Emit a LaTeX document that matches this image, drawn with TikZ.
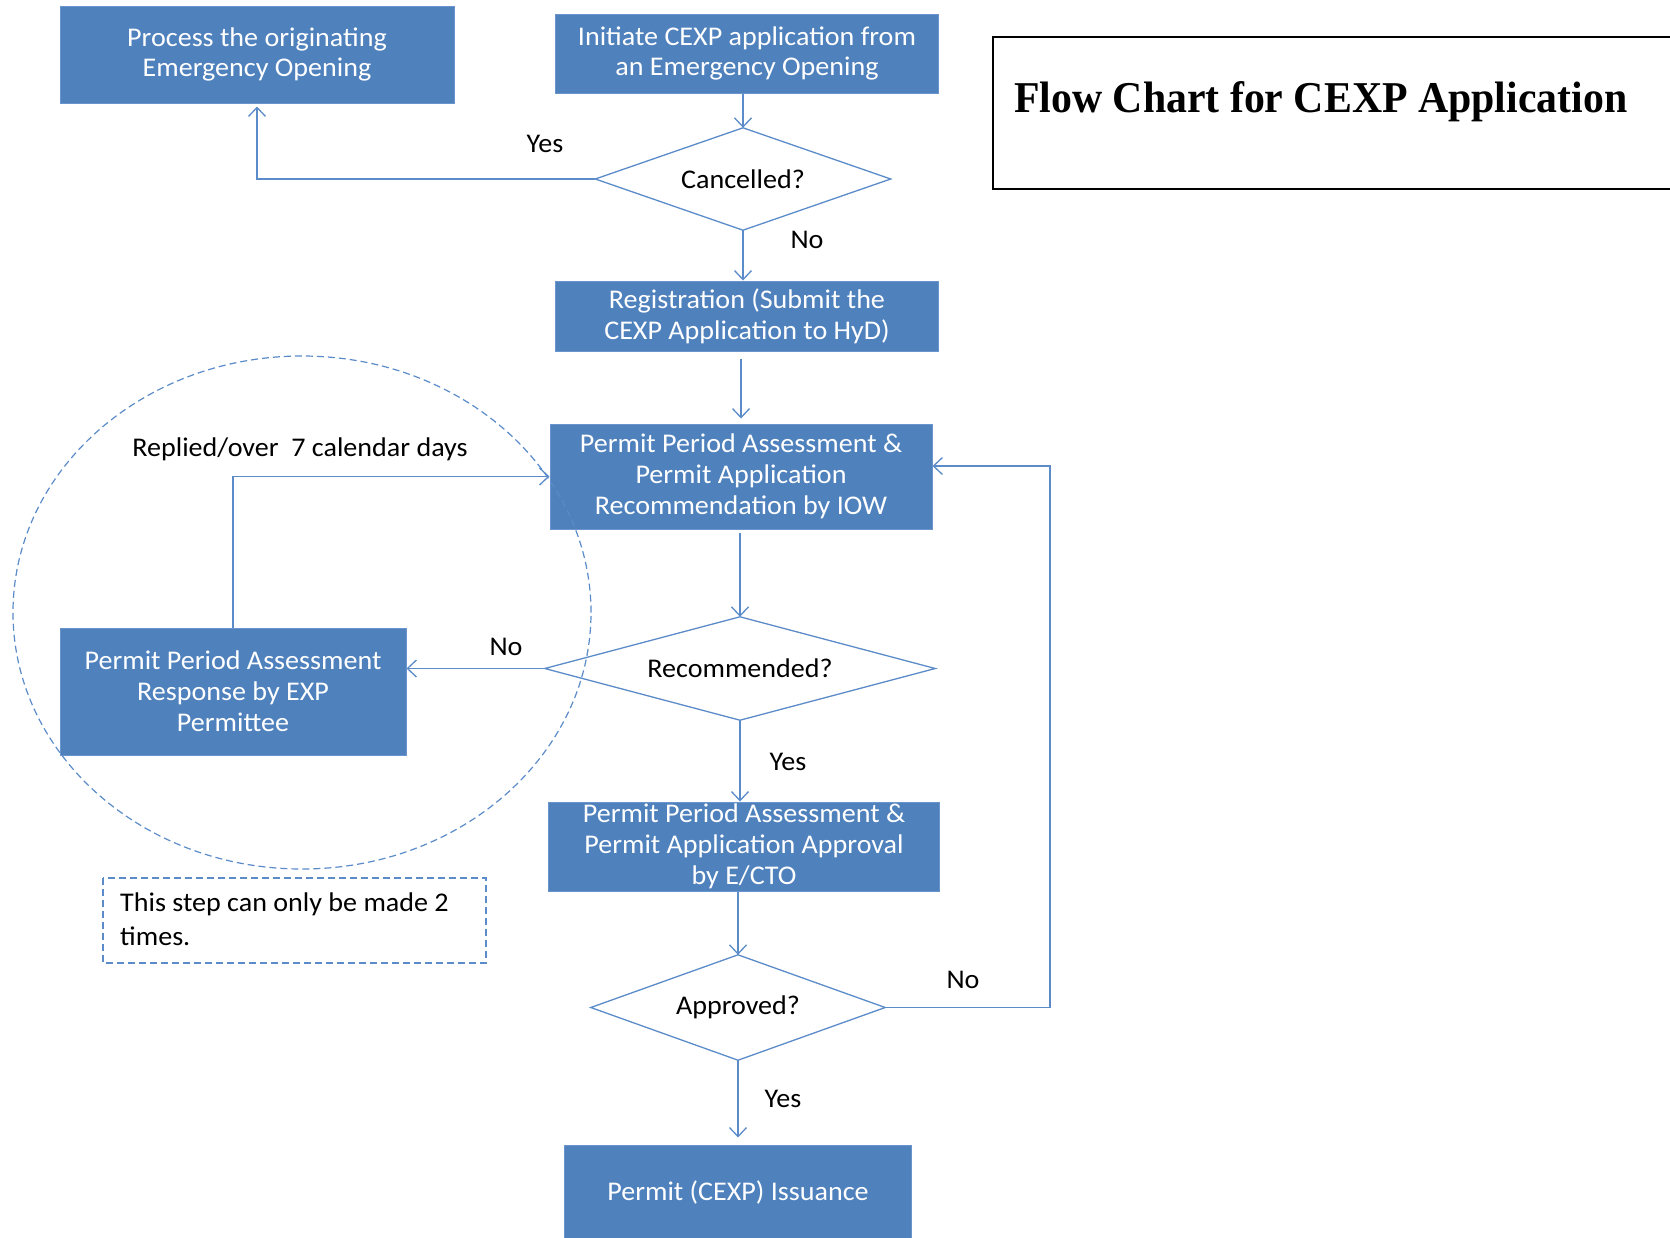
\documentclass[tikz,border=0pt]{standalone}
\usepackage{fontspec}
\setmainfont{Carlito}[FakeStretch=1.04]
\newfontfamily\titlefont{Liberation Serif}[FakeStretch=0.95]
\usetikzlibrary{arrows.meta}

\definecolor{boxblue}{HTML}{4F81BD}
\definecolor{boxedge}{HTML}{6A95CC}
\definecolor{lineblue}{HTML}{5B8BC9}

\tikzset{
  box/.style={rectangle, fill=boxblue, draw=boxedge, line width=1pt,
    text=white, align=center, inner sep=0pt,
    font=\fontsize{27}{30.8}\selectfont},
  decision/.style={rectangle, inner sep=0pt,
    font=\fontsize{27}{30.8}\selectfont},
  diamondline/.style={draw=lineblue, line width=1.3pt, line join=miter},
  flow/.style={draw=lineblue, line width=1.3pt,
    -{Straight Barb[length=9pt,width=17pt,line width=1.3pt]}},
  lbl/.style={font=\fontsize{27}{30.8}\selectfont, text=black, inner sep=0pt},
  dashline/.style={draw=lineblue, line width=1.2pt, dash pattern=on 7pt off 4pt}
}

\begin{document}
\begin{tikzpicture}[x=1pt,y=-1pt]
  \useasboundingbox (0,0) rectangle (1670,1237);

  % process boxes
  \node[box, minimum width=394pt, minimum height=97pt] (proc) at (257,54.5)
    {Process the originating\\Emergency Opening};
  \node[box, minimum width=383pt, minimum height=79pt] (init) at (747,53.5)
    {Initiate CEXP application from\\an Emergency Opening};
  \node[box, minimum width=383pt, minimum height=70pt] (reg) at (747,316)
    {Registration (Submit the\\CEXP Application to HyD)};
  \node[box, minimum width=382pt, minimum height=105pt] (iow) at (741,476.5)
    {Permit Period Assessment \&\\Permit Application\\Recommendation by IOW};
  \node[box, minimum width=346pt, minimum height=127pt] (exp) at (233,691.5)
    {Permit Period Assessment\\Response by EXP\\Permittee};
  \node[box, minimum width=391pt, minimum height=89pt] (ecto) at (744,846.5)
    {Permit Period Assessment \&\\Permit Application Approval\\by E/CTO};
  \node[box, minimum width=347pt, minimum height=94pt] (iss) at (738,1192)
    {Permit (CEXP) Issuance};

  % decisions
  \node[decision, minimum width=295pt, minimum height=102pt] (canc) at (743,179) {Cancelled?};
  \node[decision, minimum width=390pt, minimum height=103pt] (rec) at (740,668.5) {Recommended?};
  \node[decision, minimum width=294pt, minimum height=105pt] (appr) at (738,1007.5) {Approved?};
  \foreach \d in {canc,rec,appr}
    \draw[diamondline] (\d.north) -- (\d.east) -- (\d.south) -- (\d.west) -- cycle;

  % title
  \draw[black, line width=1.5pt] (1672,37) -- (993,37) -- (993,189) -- (1672,189);
  \node[anchor=base west, inner sep=0pt, font=\titlefont\bfseries\fontsize{44}{50}\selectfont]
    (title) at (1014,112) {Flow Chart for CEXP Application};

  % connectors
  \draw[flow] (init.south -| canc.north) -- (canc.north);
  \draw[flow] (canc.west) -| ([yshift=-3pt]proc.south);
  \draw[flow] (canc.south) -- (canc.south |- reg.north);
  \draw[flow, shorten <=7pt] (reg.south -| iow.north) -- ([yshift=5pt]iow.north);
  \draw[flow, shorten <=3pt] (iow.south -| rec.north) -- (rec.north);
  \draw[flow] (rec.west) -- (rec.west -| exp.east);
  \draw[flow] (exp.north) |- (iow.west);
  \draw[flow] (rec.south) -- (rec.south |- ecto.north);
  \draw[flow] (ecto.south -| appr.north) -- (appr.north);
  \coordinate (ret) at (1050,466);
  \draw[flow] (appr.east) -| (ret) -- (ret -| iow.east);
  \draw[flow] (appr.south) -- ([yshift=7pt]appr.south |- iss.north);

  % connector labels
  \node[lbl] (l1) at (545,144) {Yes};
  \node[lbl] (l2) at (807,240) {No};
  \node[lbl] (l3) at (300,449) {Replied/over\ \ 7 calendar days};
  \node[lbl] (l4) at (506,647) {No};
  \node[lbl] (l5) at (788,762) {Yes};
  \node[lbl] (l6) at (963,980) {No};
  \node[lbl] (l7) at (783,1099) {Yes};

  % repeat-limit note
  \draw[dashline] (103,878) rectangle (486,963);
  \node[lbl, anchor=west, align=left, font=\fontsize{27}{34.5}\selectfont] (note) at (120,919)
    {This step can only be made 2\\times.};

  % loop boundary
  \draw[dashline] (302,612.5) ellipse [x radius=289pt, y radius=256.5pt];
\end{tikzpicture}
\end{document}
